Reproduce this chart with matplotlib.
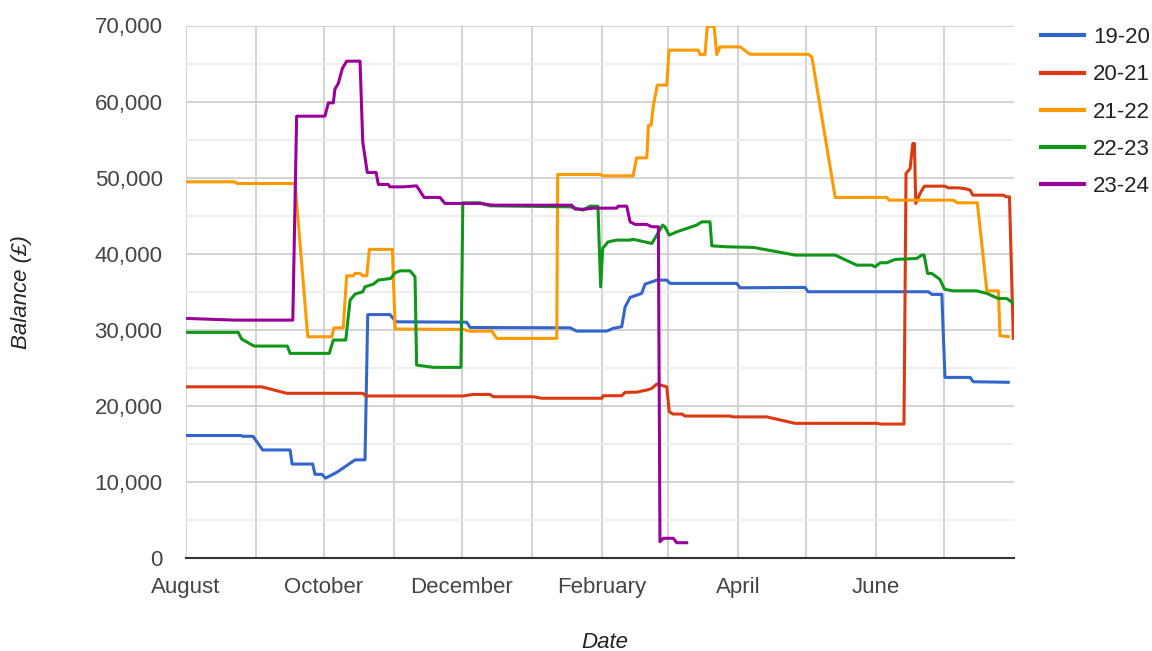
import datetime as dt
import matplotlib
matplotlib.use("Agg")
import matplotlib.pyplot as plt
from matplotlib.ticker import FuncFormatter, MultipleLocator

# ---------------- data (day offset from 1 August, balance in £) ----------------
series_names = ["19-20", "20-21", "21-22", "22-23", "23-24"]
series_colors = ["#3366CC", "#DC3912", "#FF9900", "#109618", "#990099"]

days_1920 = [0, 24.5, 25.4, 29.8, 34.1, 46.2, 47.1, 56.2, 57.2, 60.2, 61.9, 66.8, 70.5, 74.9,
             79.3, 80.5, 90.3, 93.0, 124.2, 125.7, 169.9, 172.8, 186.1, 188.9, 192.7, 194.2,
             196.4, 201.5, 203.0, 208.2, 212.6, 214.1, 243.5, 245.0, 273.7, 275.0, 328.2,
             329.7, 334.1, 335.5, 346.6, 348.0, 363.5]
vals_1920 = [16100, 16100, 16000, 16000, 14200, 14200, 12350, 12350, 11000, 11000, 10500, 11260,
             12000, 12900, 12900, 32000, 32000, 31050, 31000, 30300, 30260, 29830, 29830, 30180,
             30400, 33000, 34250, 34780, 36000, 36530, 36530, 36100, 36100, 35520, 35570, 35000,
             35000, 34650, 34650, 23740, 23740, 23170, 23100]

days_2021 = [0, 33.7, 44.7, 78.3, 79.7, 122.6, 127.0, 134.5, 135.9, 153.5, 157.4, 183.9, 184.5,
             192.7, 194.2, 199.3, 203.8, 206.0, 208.2, 212.6, 213.7, 215.4, 219.4, 220.7, 240.6,
             242.0, 256.8, 269.3, 305.4, 306.9, 317.4, 318.3, 320.1, 321.3, 322.0, 322.6, 324.5,
             326.4, 335.5, 336.8, 341.3, 344.3, 346.6, 347.8, 361.3, 362.5, 364.0, 365.7]
vals_2021 = [22500, 22500, 21650, 21650, 21300, 21300, 21500, 21500, 21200, 21200, 21000, 21000,
             21330, 21330, 21770, 21800, 22080, 22300, 22870, 22500, 19230, 18920, 18920, 18660,
             18660, 18550, 18550, 17700, 17700, 17610, 17610, 50550, 51200, 54490, 54490, 46610,
             47920, 48880, 48880, 48660, 48660, 48550, 48360, 47700, 47700, 47480, 47480, 28870]

days_2122 = [0, 21.9, 22.8, 48.4, 54.0, 64.6, 65.6, 69.7, 71.2, 74.1, 74.9, 77.1, 78.4, 80.1,
             81.2, 91.4, 92.6, 122.6, 125.7, 135.3, 137.5, 164.0, 164.4, 183.1, 184.5, 197.7,
             199.3, 203.8, 204.5, 205.7, 206.7, 208.4, 212.6, 213.6, 226.6, 227.3, 229.5, 230.5,
             233.5, 234.7, 236.1, 245.0, 249.4, 275.2, 276.7, 287.0, 309.8, 310.8, 339.2, 341.0,
             349.8, 354.0, 359.1, 359.8, 363.5]
vals_2122 = [49450, 49450, 49230, 49230, 29080, 29080, 30260, 30260, 37100, 37100, 37410, 37410,
             37100, 37100, 40570, 40570, 30100, 30050, 29800, 29830, 28870, 28870, 50420, 50420,
             50240, 50240, 52600, 52600, 56900, 56900, 59530, 62160, 62160, 66760, 66760, 66180,
             66180, 69900, 69900, 66180, 67190, 67190, 66220, 66220, 65870, 47400, 47400, 47040,
             47040, 46690, 46690, 35120, 35120, 29210, 29100]

days_2223 = [0, 23.3, 24.8, 30.3, 45.0, 46.2, 63.5, 65.3, 70.8, 72.7, 74.9, 78.3, 79.3, 83.0,
             85.2, 90.7, 92.6, 94.8, 99.2, 101.4, 102.1, 109.5, 121.7, 122.5, 130.1, 134.5,
             169.9, 175.6, 178.7, 182.2, 183.4, 184.3, 186.7, 190.5, 196.4, 197.7, 206.0, 208.2,
             210.8, 211.8, 213.7, 217.0, 221.4, 225.8, 228.1, 231.7, 232.5, 239.1, 250.9, 269.3,
             287.0, 296.5, 303.2, 304.6, 306.9, 309.8, 313.5, 323.0, 325.3, 326.3, 327.8, 329.7,
             333.3, 335.1, 335.5, 339.1, 349.5, 354.0, 359.0, 362.8, 365.7]
vals_2223 = [29660, 29660, 28780, 27860, 27860, 26900, 26900, 28650, 28650, 33900, 34690, 35000,
             35650, 36000, 36530, 36750, 37490, 37750, 37750, 36970, 25360, 25060, 25060, 46690,
             46690, 46300, 46160, 45730, 46250, 46250, 35650, 40700, 41560, 41790, 41790, 41900,
             41350, 42440, 43760, 43540, 42440, 42880, 43320, 43760, 44190, 44190, 41040, 40910,
             40830, 39820, 39820, 38500, 38500, 38280, 38810, 38810, 39250, 39380, 39820, 39820,
             37410, 37400, 36620, 35440, 35310, 35120, 35120, 34780, 34120, 34120, 33470]

days_2324 = [0, 21.9, 47.4, 49.1, 61.6, 63.1, 65.3, 66.0, 67.5, 69.3, 71.2, 77.1, 78.3, 80.3,
             84.2, 85.2, 89.6, 90.3, 96.2, 102.1, 105.4, 112.4, 114.6, 130.1, 135.9, 170.6,
             172.1, 176.5, 180.0, 190.5, 191.1, 194.9, 196.4, 198.6, 203.8, 206.0, 208.9, 209.6,
             211.1, 215.5, 217.0, 221.4]
vals_2324 = [31500, 31270, 31270, 58080, 58080, 59830, 59830, 61630, 62380, 64350, 65310, 65310,
             54700, 50680, 50680, 49100, 49100, 48790, 48790, 48920, 47400, 47400, 46610, 46610,
             46380, 46380, 45860, 45860, 45990, 45990, 46250, 46250, 44190, 43850, 43850, 43540,
             43540, 2140, 2590, 2590, 2010, 2010]

all_days = [days_1920, days_2021, days_2122, days_2223, days_2324]
all_vals = [vals_1920, vals_2021, vals_2122, vals_2223, vals_2324]

month_labels = ["August", "", "October", "", "December", "", "February", "", "April", "", "June", ""]
y_max = 70000

# ---------------- plot ----------------
plt.rcParams["font.family"] = ["Liberation Sans", "DejaVu Sans"]

W, H = 1152, 651
fig = plt.figure(figsize=(W / 100, H / 100), dpi=100)
ax = fig.add_axes([185.5 / W, 1 - 558 / H, (1014 - 185.5) / W, (558 - 25.5) / H])

base = dt.datetime(2019, 8, 1)
for name, color, d, v in zip(series_names, series_colors, all_days, all_vals):
    x = [base + dt.timedelta(days=float(k)) for k in d]
    ax.plot(x, v, color=color, lw=2.2, label=name, solid_joinstyle="round", zorder=3)

ax.set_xlim(base, base + dt.timedelta(days=366))
ax.set_ylim(0, y_max)

month_starts = [dt.datetime(2019 + (8 + i - 1) // 12, (8 + i - 1) % 12 + 1, 1) for i in range(12)]
ax.set_xticks(month_starts)
ax.set_xticklabels(month_labels)
ax.yaxis.set_major_locator(MultipleLocator(10000))
ax.yaxis.set_minor_locator(MultipleLocator(5000))
ax.yaxis.set_major_formatter(FuncFormatter(lambda v, p: f"{int(v):,}"))

ax.grid(True, which="major", axis="both", color="#cccccc", lw=1.2, zorder=0)
ax.grid(True, which="minor", axis="y", color="#ebebeb", lw=1.2, zorder=0)
ax.tick_params(axis="both", which="both", length=0, labelsize=16, colors="#444444")
ax.tick_params(axis="x", pad=14)
ax.tick_params(axis="y", pad=16.5)

for s in ["top", "right", "left"]:
    ax.spines[s].set_visible(False)
ax.spines["bottom"].set_color("#333333")
ax.spines["bottom"].set_linewidth(1.5)
ax.spines["bottom"].set_zorder(4)

fig.text(22 / W, 1 - 292 / H, "Balance (£)", rotation=90, ha="center", va="center",
         fontsize=16, style="italic", color="#222222")
fig.text(605 / W, 1 - 642 / H, "Date", ha="center", va="center",
         fontsize=16, style="italic", color="#222222")

leg = ax.legend(loc="upper left", bbox_to_anchor=(1030 / W, 1 - 16 / H),
                bbox_transform=fig.transFigure, frameon=False, fontsize=16,
                handlelength=1.95, handletextpad=0.4, labelspacing=0.73, borderpad=0)
for t in leg.get_texts():
    t.set_color("#222222")
for l in leg.get_lines():
    l.set_linewidth(3)

fig.savefig("out.png", dpi=100)
